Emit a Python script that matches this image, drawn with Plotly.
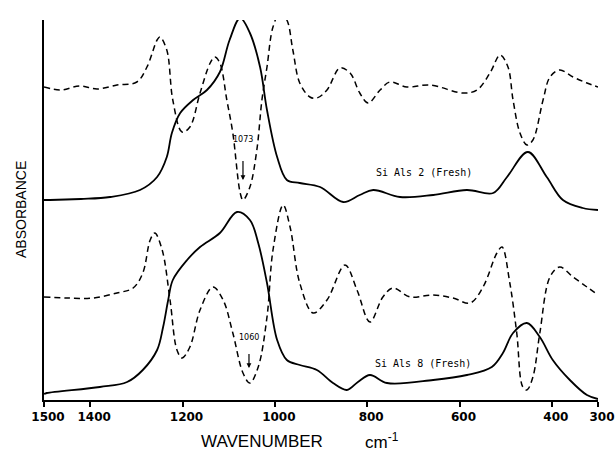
import plotly.graph_objects as go

# Top sample: SiAls 2 (Fresh) - absorbance (solid) and 2nd derivative-like (dashed)
wn_top_solid = [1500, 1487, 1420, 1357, 1292, 1255, 1234, 1223, 1205, 1177, 1147, 1119, 1098,
                1075, 1054, 1032, 1017, 995, 974, 946, 902, 852, 816, 787, 729, 657, 584,
                527, 497, 452, 411, 376, 333, 300]
a_top_solid = [200, 200, 201, 203, 210, 223, 243, 267, 287, 300, 310, 328, 360,
               382, 367, 333, 290, 243, 220, 217, 213, 198, 205, 210, 203, 205, 210,
               207, 223, 248, 223, 200, 192, 190]

wn_top_dash = [1500, 1465, 1422, 1385, 1342, 1299, 1277, 1255, 1249, 1234, 1221, 1201, 1184,
               1162, 1140, 1130, 1119, 1104, 1091, 1075, 1069, 1054, 1039, 1028, 1017, 1004,
               989, 974, 961, 946, 924, 909, 887, 859, 837, 816, 798, 772, 751, 714, 664,
               592, 562, 534, 512, 495, 484, 469, 454, 441, 419, 404, 383, 354, 324, 300]
a_top_dash = [313, 310, 314, 311, 315, 318, 333, 360, 363, 350, 300, 268, 273,
              307, 337, 343, 337, 300, 267, 207, 200, 213, 250, 300, 333, 373,
              387, 380, 350, 317, 303, 302, 310, 332, 327, 307, 297, 310, 318, 313, 315,
              307, 310, 327, 345, 333, 300, 267, 255, 260, 300, 323, 330, 323, 317, 313]

# Bottom sample: SiAls 8 (Fresh)
wn_bot_solid = [1500, 1494, 1379, 1320, 1286, 1255, 1242, 1231, 1221, 1190, 1162, 1119, 1082,
                1054, 1036, 1017, 995, 974, 946, 909, 874, 844, 820, 794, 757, 657, 584,
                530, 506, 484, 454, 426, 398, 361, 324, 300]
a_bot_solid = [6, 7, 13, 18, 30, 50, 73, 100, 120, 140, 153, 167, 188,
               180, 157, 117, 60, 40, 35, 30, 17, 10, 18, 25, 17, 20, 25,
               33, 47, 67, 77, 63, 40, 20, 5, 1]

wn_bot_dash = [1500, 1450, 1394, 1342, 1307, 1286, 1270, 1260, 1244, 1227, 1212, 1201, 1184,
               1162, 1134, 1112, 1091, 1069, 1054, 1036, 1017, 1004, 982, 967, 946, 917,
               887, 848, 822, 794, 766, 744, 707, 657, 614, 577, 549, 519, 508, 491, 476,
               463, 454, 441, 426, 404, 383, 354, 324, 300]
a_bot_dash = [103, 102, 102, 107, 112, 127, 160, 167, 150, 100, 50, 42, 53,
              90, 113, 100, 67, 27, 17, 33, 83, 150, 195, 173, 117, 87,
              100, 135, 110, 78, 103, 112, 103, 105, 102, 97, 113, 147, 153, 117, 67,
              13, 10, 23, 67, 123, 133, 123, 113, 105]

x_ticks = [1500, 1400, 1200, 1000, 800, 600, 400, 300]

fig = go.Figure()
solid = dict(color="black", width=1.8, shape="spline", smoothing=1.0)
dashed = dict(color="black", width=1.5, shape="spline", smoothing=1.0, dash="6px,4px")

fig.add_trace(go.Scatter(x=wn_top_dash, y=a_top_dash, mode="lines", line=dashed))
fig.add_trace(go.Scatter(x=wn_top_solid, y=a_top_solid, mode="lines", line=solid))
fig.add_trace(go.Scatter(x=wn_bot_dash, y=a_bot_dash, mode="lines", line=dashed))
fig.add_trace(go.Scatter(x=wn_bot_solid, y=a_bot_solid, mode="lines", line=solid))

small = dict(family="DejaVu Sans", size=8, color="#000000")
lab = dict(family="DejaVu Sans Mono", size=10, color="#000000")

annotations = [
    dict(x=1069, y=220, ax=0, ay=-41, text="1073", showarrow=True, arrowhead=2,
         arrowsize=0.8, arrowwidth=1.2, arrowcolor="black", startstandoff=16, font=small),
    dict(x=1056, y=32, ax=0, ay=-31, text="1060", showarrow=True, arrowhead=2,
         arrowsize=0.8, arrowwidth=1.2, arrowcolor="black", startstandoff=11, font=small),
    dict(x=677, y=228, text="Si Als 2 (Fresh)", showarrow=False, font=lab),
    dict(x=679, y=37, text="Si Als 8 (Fresh)", showarrow=False, font=lab),
    dict(xref="paper", yref="paper", x=0.3926, y=-0.108, xanchor="center", yanchor="middle",
         text="WAVENUMBER", showarrow=False,
         font=dict(family="Liberation Sans", size=17, color="#000000")),
    dict(xref="paper", yref="paper", x=0.611, y=-0.108, xanchor="center", yanchor="middle",
         text="cm<sup>-1</sup>", showarrow=False,
         font=dict(family="Liberation Sans", size=17, color="#000000")),
    dict(xref="paper", yref="paper", x=-0.0415, y=0.5, xanchor="center", yanchor="middle",
         text="ABSORBANCE", textangle=-90, showarrow=False,
         font=dict(family="Liberation Sans", size=14, color="#000000")),
]

fig.update_layout(
    width=616, height=453,
    margin=dict(l=44, r=18, t=20, b=53, autoexpand=False),
    paper_bgcolor="white", plot_bgcolor="white",
    showlegend=False,
    annotations=annotations,
    xaxis=dict(range=[1500, 300], tickvals=x_ticks, ticktext=[str(t) for t in x_ticks],
               ticks="outside", ticklen=5, tickwidth=1.5, tickcolor="black",
               showline=True, linecolor="black", linewidth=1.5, showgrid=False, zeroline=False,
               tickfont=dict(family="DejaVu Sans", size=12, color="#000000", weight="bold"),
               ticklabelshift=-4, ticklabeloverflow="allow", automargin=False),
    yaxis=dict(range=[0, 380], showticklabels=False, ticks="", showline=True,
               linecolor="black", linewidth=1.8, showgrid=False, zeroline=False,
               automargin=False),
)

fig.write_html("out.html")
